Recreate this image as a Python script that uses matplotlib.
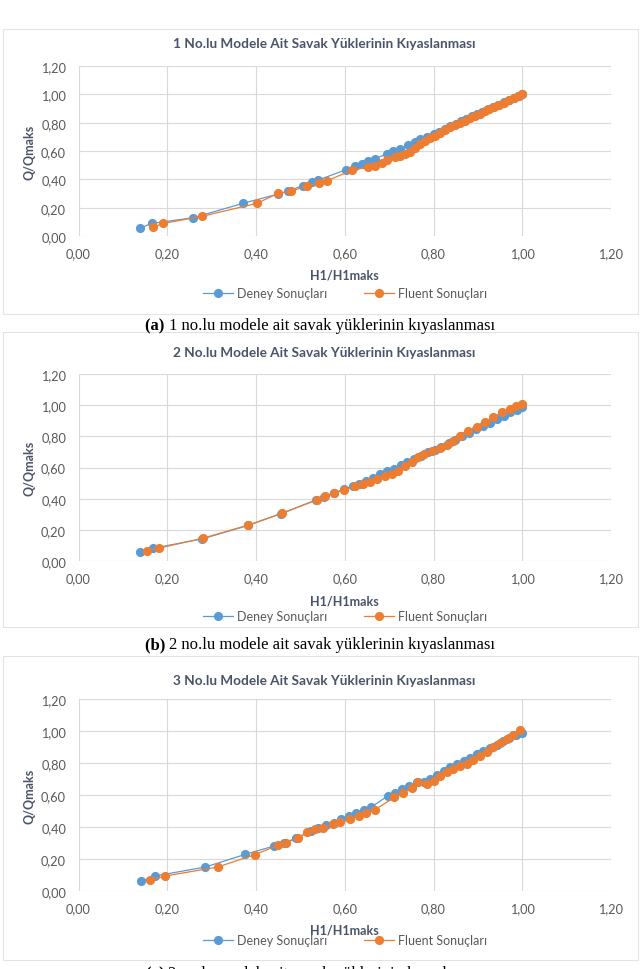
import matplotlib
matplotlib.use("Agg")
import matplotlib.pyplot as plt
from matplotlib.patches import Rectangle
from matplotlib.lines import Line2D

plt.rcParams['font.family'] = ['Lato', 'DejaVu Sans']

# ---------------- data ----------------
titles = ["1 No.lu Modele Ait Savak Yüklerinin Kıyaslanması",
          "2 No.lu Modele Ait Savak Yüklerinin Kıyaslanması",
          "3 No.lu Modele Ait Savak Yüklerinin Kıyaslanması"]
captions_bold = ["(a)", "(b)", "(c)"]
captions_text = ["1 no.lu modele ait savak yüklerinin kıyaslanması",
                 "2 no.lu modele ait savak yüklerinin kıyaslanması",
                 "3 no.lu modele ait savak yüklerinin kıyaslanması"]
series_names = ["Deney Sonuçları", "Fluent Sonuçları"]
xlabel = "H1/H1maks"
ylabel = "Q/Qmaks"
tick_values = [0.0, 0.2, 0.4, 0.6, 0.8, 1.0, 1.2]
tick_labels = ["0,00", "0,20", "0,40", "0,60", "0,80", "1,00", "1,20"]

# Model 1
deney1_x = [0.139, 0.165, 0.259, 0.371, 0.450, 0.471, 0.505, 0.527, 0.540, 0.603, 0.623, 0.638,
            0.653, 0.668, 0.695, 0.709, 0.724, 0.743, 0.758, 0.770, 0.785, 0.800, 0.812, 0.825,
            0.838, 0.850, 0.862, 0.874, 0.886, 0.898, 0.910, 0.922, 0.934, 0.946, 0.958, 0.970,
            0.982, 0.992, 1.000]
deney1_y = [0.056, 0.089, 0.129, 0.231, 0.296, 0.316, 0.355, 0.383, 0.395, 0.468, 0.492, 0.505,
            0.530, 0.545, 0.580, 0.600, 0.617, 0.640, 0.665, 0.685, 0.700, 0.718, 0.735, 0.755,
            0.775, 0.793, 0.810, 0.828, 0.846, 0.862, 0.878, 0.896, 0.912, 0.928, 0.945, 0.960,
            0.975, 0.988, 1.000]
fluent1_x = [0.167, 0.191, 0.279, 0.402, 0.450, 0.478, 0.516, 0.543, 0.559, 0.617, 0.653, 0.668,
             0.683, 0.695, 0.713, 0.724, 0.736, 0.747, 0.758, 0.770, 0.781, 0.792, 0.803, 0.815,
             0.826, 0.837, 0.848, 0.860, 0.871, 0.882, 0.893, 0.904, 0.915, 0.926, 0.937, 0.948,
             0.959, 0.970, 0.981, 0.990, 1.000]
fluent1_y = [0.061, 0.089, 0.139, 0.231, 0.301, 0.315, 0.355, 0.372, 0.388, 0.466, 0.485, 0.496,
             0.515, 0.536, 0.560, 0.567, 0.579, 0.595, 0.619, 0.649, 0.673, 0.689, 0.708, 0.725,
             0.745, 0.770, 0.785, 0.795, 0.812, 0.830, 0.845, 0.862, 0.880, 0.895, 0.912, 0.928,
             0.942, 0.958, 0.972, 0.985, 1.005]

# Model 2
deney2_x = [0.139, 0.167, 0.279, 0.382, 0.457, 0.536, 0.554, 0.575, 0.598, 0.618, 0.633, 0.648,
            0.664, 0.680, 0.695, 0.710, 0.726, 0.741, 0.756, 0.772, 0.787, 0.803, 0.818, 0.834,
            0.849, 0.865, 0.880, 0.896, 0.911, 0.927, 0.942, 0.958, 0.973, 0.988, 1.000]
deney2_y = [0.060, 0.081, 0.142, 0.228, 0.304, 0.393, 0.412, 0.436, 0.460, 0.480, 0.497, 0.515,
            0.535, 0.556, 0.575, 0.590, 0.613, 0.634, 0.655, 0.676, 0.697, 0.714, 0.733, 0.755,
            0.778, 0.800, 0.822, 0.845, 0.866, 0.888, 0.910, 0.932, 0.953, 0.972, 0.990]
fluent2_x = [0.155, 0.182, 0.280, 0.383, 0.458, 0.537, 0.555, 0.576, 0.598, 0.623, 0.642, 0.658,
             0.673, 0.691, 0.706, 0.721, 0.736, 0.751, 0.766, 0.779, 0.796, 0.815, 0.830, 0.845,
             0.860, 0.878, 0.897, 0.916, 0.935, 0.954, 0.972, 0.987, 0.999]
fluent2_y = [0.066, 0.083, 0.146, 0.231, 0.306, 0.391, 0.415, 0.436, 0.454, 0.479, 0.492, 0.509,
             0.526, 0.544, 0.556, 0.578, 0.608, 0.637, 0.666, 0.687, 0.708, 0.723, 0.745, 0.772,
             0.804, 0.836, 0.858, 0.890, 0.922, 0.954, 0.976, 0.993, 1.006]

# Model 3
deney3_x = [0.141, 0.173, 0.286, 0.376, 0.440, 0.462, 0.491, 0.523, 0.540, 0.558, 0.575, 0.592,
            0.609, 0.626, 0.643, 0.660, 0.698, 0.713, 0.728, 0.745, 0.762, 0.778, 0.793, 0.808,
            0.823, 0.838, 0.853, 0.868, 0.883, 0.898, 0.912, 0.927, 0.942, 0.956, 0.971, 0.985,
            1.000]
deney3_y = [0.060, 0.094, 0.150, 0.229, 0.281, 0.300, 0.331, 0.372, 0.392, 0.410, 0.428, 0.447,
            0.466, 0.486, 0.505, 0.525, 0.596, 0.614, 0.636, 0.658, 0.684, 0.680, 0.700, 0.725,
            0.748, 0.772, 0.792, 0.812, 0.832, 0.858, 0.875, 0.895, 0.915, 0.935, 0.955, 0.975,
            0.990]
fluent3_x = [0.162, 0.196, 0.314, 0.397, 0.449, 0.468, 0.495, 0.514, 0.533, 0.552, 0.574, 0.589,
             0.612, 0.631, 0.649, 0.668, 0.712, 0.732, 0.751, 0.766, 0.785, 0.800, 0.815, 0.830,
             0.845, 0.860, 0.875, 0.890, 0.905, 0.920, 0.935, 0.950, 0.965, 0.980, 0.995]
fluent3_y = [0.067, 0.094, 0.150, 0.227, 0.285, 0.302, 0.331, 0.367, 0.388, 0.392, 0.419, 0.429,
             0.450, 0.471, 0.488, 0.508, 0.586, 0.611, 0.642, 0.679, 0.669, 0.689, 0.721, 0.742,
             0.763, 0.779, 0.794, 0.821, 0.842, 0.867, 0.898, 0.925, 0.950, 0.975, 1.006]

deney = [(deney1_x, deney1_y), (deney2_x, deney2_y), (deney3_x, deney3_y)]
fluent = [(fluent1_x, fluent1_y), (fluent2_x, fluent2_y), (fluent3_x, fluent3_y)]

# ---------------- style ----------------
BLUE = "#5B9BD5"
ORANGE = "#ED7D31"
GRID = "#D9D9D9"
TXT = "#595959"
TITLE_C = "#4a5468"
MS = 6.6

W, H = 641, 970
fig = plt.figure(figsize=(W / 100, H / 100), dpi=100)

def fx(px):
    return px / W

def fy(py):
    return 1 - py / H

# panel layout in pixels: (box_top, box_bottom, plot_top, plot_bottom, title_y, xlabel_y, legend_y, caption_y)
panels = [
    (30, 315, 67, 237, 44, 275, 294, 326),
    (333, 628, 375, 562, 353, 601, 617, 645),
    (657, 961, 700, 892, 681, 931, 941, 974),
]
plot_left, plot_right = 78.5, 611

for i, (bt, bb, pt, pb, ty, xly, lgy, capy) in enumerate(panels):
    fig.patches.append(Rectangle((fx(3), fy(bb)), fx(635), (bb - bt) / H,
                                 transform=fig.transFigure, fill=False,
                                 edgecolor="#E3E3E3", linewidth=0.8))
    ax = fig.add_axes([fx(plot_left), fy(pb), fx(plot_right - plot_left), (pb - pt) / H])
    ax.set_xlim(0, 1.2)
    ax.set_ylim(0, 1.2)
    ax.set_xticks(tick_values)
    ax.set_xticklabels(tick_labels)
    ax.set_yticks(tick_values)
    ax.set_yticklabels(tick_labels)
    ax.tick_params(length=0, labelsize=9.2, labelcolor=TXT)
    ax.tick_params(axis='y', pad=9)
    ax.tick_params(axis='x', pad=8)
    for s in ax.spines.values():
        s.set_visible(False)
    ax.grid(True, color=GRID, linewidth=0.8)
    ax.set_axisbelow(True)
    dx, dy = deney[i]
    flx, fly = fluent[i]
    ax.plot(dx, dy, color=BLUE, linewidth=0.9, marker='o', markersize=MS,
            markeredgewidth=0, label=series_names[0], clip_on=False)
    ax.plot(flx, fly, color=ORANGE, linewidth=0.9, marker='o', markersize=MS,
            markeredgewidth=0, label=series_names[1], clip_on=False)

    fig.text(fx(324), fy(ty), titles[i], ha='center', va='center',
             fontsize=9.8, fontweight='bold', color=TITLE_C)
    fig.text(fx((plot_left + plot_right) / 2), fy(xly), xlabel, ha='center', va='center',
             fontsize=9, fontweight='bold', color=TITLE_C)
    fig.text(fx(29), fy((pt + pb) / 2), ylabel, ha='center', va='center', rotation=90,
             fontsize=9, fontweight='bold', color=TITLE_C)

    handles = [Line2D([], [], color=BLUE, linewidth=0.9, marker='o', markersize=MS, markeredgewidth=0),
               Line2D([], [], color=ORANGE, linewidth=0.9, marker='o', markersize=MS, markeredgewidth=0)]
    fig.legend(handles, series_names, loc='center',
               bbox_to_anchor=(fx(345), fy(lgy)), ncol=2, frameon=False,
               fontsize=9, labelcolor=TXT, handlelength=2.4, handletextpad=0.3,
               columnspacing=3.0, borderpad=0)

    # caption
    tb = fig.text(0, fy(capy), captions_bold[i] + " ", ha='left', va='center',
                  fontsize=12, fontweight='bold', family='Liberation Serif', color='black')
    tn = fig.text(0, fy(capy), captions_text[i], ha='left', va='center',
                  fontsize=12, family='Liberation Serif', color='black')
    fig.canvas.draw()
    r = fig.canvas.get_renderer()
    wb = tb.get_window_extent(r).width
    wn = tn.get_window_extent(r).width
    start = 320 - (wb + wn) / 2
    tb.set_x(start / W)
    tn.set_x((start + wb) / W)

fig.savefig("out.png", dpi=100)
